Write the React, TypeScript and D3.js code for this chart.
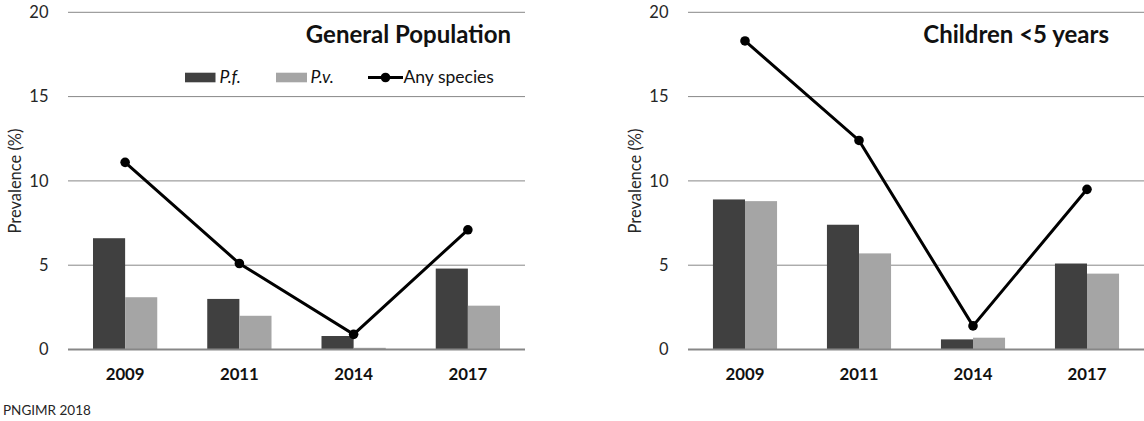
import React from "react";
import * as d3 from "d3";

const years = ["2009", "2011", "2014", "2017"];
const yTicks = [0, 5, 10, 15, 20];

const genPf = [6.6, 3.0, 0.8, 4.8];
const genPv = [3.1, 2.0, 0.1, 2.6];
const genAny = [11.1, 5.1, 0.9, 7.1];

const kidPf = [8.9, 7.4, 0.6, 5.1];
const kidPv = [8.8, 5.7, 0.7, 4.5];
const kidAny = [18.3, 12.4, 1.4, 9.5];

const FONT = "Lato, 'Open Sans', sans-serif";
const DARK = "#404040";
const LIGHT = "#A5A5A5";

type PanelProps = {
  x0: number;
  x1: number;
  title: string;
  titleRight: number;
  pf: number[];
  pv: number[];
  any: number[];
  legend: boolean;
};

function Panel({ x0, x1, title, titleRight, pf, pv, any, legend }: PanelProps) {
  const y = d3.scaleLinear().domain([0, 20]).range([349.5, 12.3]);
  const x = d3.scaleBand<string>().domain(years).range([x0, x1]).padding(0);
  const inner = d3
    .scaleBand<string>()
    .domain(["pf", "pv"])
    .range([0, x.bandwidth()])
    .paddingInner(0)
    .paddingOuter(0.778);
  const cx = (yr: string) => (x(yr) as number) + x.bandwidth() / 2;
  const line = d3
    .line<number>()
    .x((_, i) => cx(years[i]))
    .y((d) => y(d));
  const midY = 181;
  return (
    <g>
      {yTicks.map((t) => (
        <g key={t}>
          {t !== 0 && (
            <line x1={x0} x2={x1} y1={y(t)} y2={y(t)} stroke="#878787" strokeWidth={1} />
          )}
          <text
            x={x0 - 19.5}
            y={y(t)}
            dy="0.35em"
            textAnchor="end"
            fontFamily={FONT}
            fontSize={16.5}
            fill="#262626"
          >
            {t}
          </text>
        </g>
      ))}
      <text
        transform={`translate(${x0 - 47},${midY}) rotate(-90)`}
        textAnchor="middle"
        fontFamily={FONT}
        fontSize={16.5}
        fill="#262626"
      >
        Prevalence (%)
      </text>
      {years.map((yr, i) => (
        <g key={yr}>
          <rect
            x={(x(yr) as number) + (inner("pf") as number)}
            y={y(pf[i])}
            width={inner.bandwidth()}
            height={y(0) - y(pf[i])}
            fill={DARK}
          />
          <rect
            x={(x(yr) as number) + (inner("pv") as number)}
            y={y(pv[i])}
            width={inner.bandwidth()}
            height={y(0) - y(pv[i])}
            fill={LIGHT}
          />
          <text
            x={cx(yr)}
            y={379.5}
            textAnchor="middle"
            fontFamily={FONT}
            fontWeight="bold"
            fontSize={16.8}
            fill="#111"
          >
            {yr}
          </text>
        </g>
      ))}
      <line x1={x0} x2={x1} y1={y(0)} y2={y(0)} stroke="#878787" strokeWidth={2} />
      <path d={line(any) || ""} fill="none" stroke="#000" strokeWidth={3} />
      {any.map((v, i) => (
        <circle key={i} cx={cx(years[i])} cy={y(v)} r={4.8} fill="#000" />
      ))}
      <text
        x={titleRight}
        y={43}
        textAnchor="end"
        fontFamily={FONT}
        fontWeight="bold"
        fontSize={24}
        fill="#111"
      >
        {title}
      </text>
      {legend && (
        <g fontFamily={FONT} fontSize={17.5} fill="#111">
          <rect x={185} y={72.7} width={30.5} height={9.6} fill={DARK} />
          <text x={219.5} y={82.5} fontStyle="italic">
            P.f.
          </text>
          <rect x={276} y={72.7} width={31} height={9.6} fill={LIGHT} />
          <text x={310.5} y={82.5} fontStyle="italic">
            P.v.
          </text>
          <line x1={368} x2={403} y1={77.5} y2={77.5} stroke="#000" strokeWidth={3} />
          <circle cx={385.5} cy={77.5} r={4.8} fill="#000" />
          <text x={403.5} y={82.5}>
            Any species
          </text>
        </g>
      )}
    </g>
  );
}

export default function App() {
  return (
    <svg width={1144} height={421} style={{ position: "absolute", left: 0, top: 0, background: "#fff" }}>
      <rect width={1144} height={421} fill="#fff" />
      <Panel
        x0={68}
        x1={525}
        title="General Population"
        titleRight={511}
        pf={genPf}
        pv={genPv}
        any={genAny}
        legend={true}
      />
      <Panel
        x0={688}
        x1={1144}
        title="Children <5 years"
        titleRight={1109}
        pf={kidPf}
        pv={kidPv}
        any={kidAny}
        legend={false}
      />
      <text x={3} y={415} fontFamily={FONT} fontSize={13.5} fill="#262626">
        PNGIMR 2018
      </text>
    </svg>
  );
}
